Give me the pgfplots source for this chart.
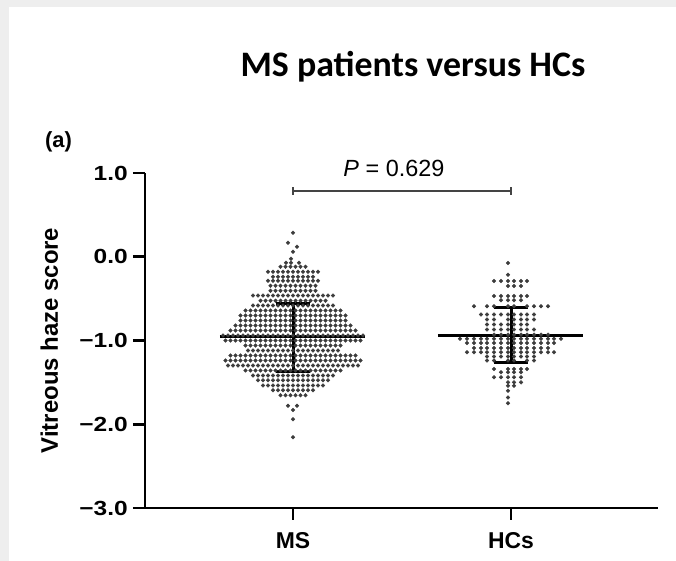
\documentclass[border=0pt]{standalone}
\usepackage{fontspec}
\setmainfont{Liberation Sans}
\newfontfamily\titlefont{Carlito}
\usepackage{graphicx}
\usepackage{pgfplots}
\pgfplotsset{compat=1.18}
\definecolor{bord}{HTML}{EEEEEE}
\definecolor{dotc}{HTML}{3C3C3C}
\definecolor{brk}{HTML}{444444}
\newcommand{\yt}[1]{\scalebox{1.2}[1]{#1}}
\begin{document}
\begin{tikzpicture}
\fill[bord] (0bp,0bp) rectangle (676bp,561bp);
\fill[white] (9bp,0bp) rectangle (676bp,554bp);
\node[anchor=base, inner sep=0pt, font=\titlefont\bfseries\fontsize{36}{38}\selectfont] at (413bp,484bp) {MS patients versus HCs};
\node[anchor=base west, inner sep=0pt, font=\bfseries\fontsize{22}{24}\selectfont] at (45bp,413bp) {(a)};
\begin{axis}[
  at={(145bp,53bp)}, anchor=south west,
  scale only axis, width=513bp, height=335bp,
  xmin=-0.6789, xmax=1.6743, ymin=-3, ymax=1,
  axis x line=bottom, axis y line=left,
  axis line style={-, line width=2.6bp, black},
  xtick={0,1}, xticklabels={MS,HCs},
  ytick={-3,-2,-1,0,1},
  yticklabels={\yt{−3.0},\yt{−2.0},\yt{−1.0},\yt{0.0},\yt{1.0}},
  tick align=outside, major tick length=12bp,
  tick style={black, line width=2.6bp},
  xticklabel style={font=\bfseries\fontsize{23}{23}\selectfont, anchor=base, inner sep=0pt, yshift=-28bp},
  yticklabel style={font=\bfseries\fontsize{20.5}{20.5}\selectfont, anchor=east, inner sep=0pt, xshift=-5bp},
  ylabel={Vitreous haze score},
  ylabel style={font=\bfseries\fontsize{24}{24}\selectfont, at={(axis description cs:-0.1696,0.5)}, anchor=base, inner sep=0pt, rotate=0},
  clip=false,
]
% MS group
\addplot[only marks, mark=*, mark size=1.85bp, color=dotc, x filter/.expression={x/218}] coordinates {
(0,0.286) (-5,0.167) (4,0.119) (0,0.060) (-2,-0.024)
(-7,-0.071) (-2,-0.071) (6,-0.071)
(-12.5,-0.119) (-7.5,-0.119) (-2.5,-0.119) (2.5,-0.119) (7.5,-0.119) (12.5,-0.119)
(-25,-0.179) (-20,-0.179) (-15,-0.179) (-10,-0.179) (-5,-0.179) (0,-0.179) (5,-0.179) (10,-0.179) (15,-0.179) (20,-0.179) (25,-0.179)
(-20,-0.238) (-15,-0.238) (-10,-0.238) (-5,-0.238) (0,-0.238) (5,-0.238) (10,-0.238) (15,-0.238) (20,-0.238)
(-25,-0.286) (-20,-0.286) (-15,-0.286) (-10,-0.286) (-5,-0.286) (0,-0.286) (5,-0.286) (10,-0.286) (15,-0.286) (20,-0.286) (25,-0.286)
(-22.5,-0.345) (-17.5,-0.345) (-12.5,-0.345) (-7.5,-0.345) (-2.5,-0.345) (2.5,-0.345) (7.5,-0.345) (12.5,-0.345) (17.5,-0.345) (22.5,-0.345)
(-22.5,-0.405) (-17.5,-0.405) (-12.5,-0.405) (-7.5,-0.405) (-2.5,-0.405) (2.5,-0.405) (7.5,-0.405) (12.5,-0.405) (17.5,-0.405) (22.5,-0.405)
(-40,-0.464) (-35,-0.464) (-30,-0.464) (-25,-0.464) (-20,-0.464) (-15,-0.464) (-10,-0.464) (-5,-0.464) (0,-0.464) (5,-0.464) (10,-0.464) (15,-0.464) (20,-0.464) (25,-0.464) (30,-0.464) (35,-0.464) (40,-0.464)
(-32.5,-0.524) (-27.5,-0.524) (-22.5,-0.524) (-17.5,-0.524) (-12.5,-0.524) (-7.5,-0.524) (-2.5,-0.524) (2.5,-0.524) (7.5,-0.524) (12.5,-0.524) (17.5,-0.524) (22.5,-0.524) (27.5,-0.524) (32.5,-0.524)
(-40,-0.583) (-35,-0.583) (-30,-0.583) (-25,-0.583) (-20,-0.583) (-15,-0.583) (-10,-0.583) (-5,-0.583) (0,-0.583) (5,-0.583) (10,-0.583) (15,-0.583) (20,-0.583) (25,-0.583) (30,-0.583) (35,-0.583) (40,-0.583)
(-47.5,-0.643) (-42.5,-0.643) (-37.5,-0.643) (-32.5,-0.643) (-27.5,-0.643) (-22.5,-0.643) (-17.5,-0.643) (-12.5,-0.643) (-7.5,-0.643) (-2.5,-0.643) (2.5,-0.643) (7.5,-0.643) (12.5,-0.643) (17.5,-0.643) (22.5,-0.643) (27.5,-0.643) (32.5,-0.643) (37.5,-0.643) (42.5,-0.643) (47.5,-0.643)
(-52.5,-0.702) (-47.5,-0.702) (-42.5,-0.702) (-37.5,-0.702) (-32.5,-0.702) (-27.5,-0.702) (-22.5,-0.702) (-17.5,-0.702) (-12.5,-0.702) (-7.5,-0.702) (-2.5,-0.702) (2.5,-0.702) (7.5,-0.702) (12.5,-0.702) (17.5,-0.702) (22.5,-0.702) (27.5,-0.702) (32.5,-0.702) (37.5,-0.702) (42.5,-0.702) (47.5,-0.702) (52.5,-0.702)
(-52.5,-0.762) (-47.5,-0.762) (-42.5,-0.762) (-37.5,-0.762) (-32.5,-0.762) (-27.5,-0.762) (-22.5,-0.762) (-17.5,-0.762) (-12.5,-0.762) (-7.5,-0.762) (-2.5,-0.762) (2.5,-0.762) (7.5,-0.762) (12.5,-0.762) (17.5,-0.762) (22.5,-0.762) (27.5,-0.762) (32.5,-0.762) (37.5,-0.762) (42.5,-0.762) (47.5,-0.762) (52.5,-0.762)
(-57.5,-0.821) (-52.5,-0.821) (-47.5,-0.821) (-42.5,-0.821) (-37.5,-0.821) (-32.5,-0.821) (-27.5,-0.821) (-22.5,-0.821) (-17.5,-0.821) (-12.5,-0.821) (-7.5,-0.821) (-2.5,-0.821) (2.5,-0.821) (7.5,-0.821) (12.5,-0.821) (17.5,-0.821) (22.5,-0.821) (27.5,-0.821) (32.5,-0.821) (37.5,-0.821) (42.5,-0.821) (47.5,-0.821) (52.5,-0.821) (57.5,-0.821)
(-62.5,-0.881) (-57.5,-0.881) (-52.5,-0.881) (-47.5,-0.881) (-42.5,-0.881) (-37.5,-0.881) (-32.5,-0.881) (-27.5,-0.881) (-22.5,-0.881) (-17.5,-0.881) (-12.5,-0.881) (-7.5,-0.881) (-2.5,-0.881) (2.5,-0.881) (7.5,-0.881) (12.5,-0.881) (17.5,-0.881) (22.5,-0.881) (27.5,-0.881) (32.5,-0.881) (37.5,-0.881) (42.5,-0.881) (47.5,-0.881) (52.5,-0.881) (57.5,-0.881) (62.5,-0.881)
(-70,-0.940) (-65,-0.940) (-60,-0.940) (-55,-0.940) (-50,-0.940) (-45,-0.940) (-40,-0.940) (-35,-0.940) (-30,-0.940) (-25,-0.940) (-20,-0.940) (-15,-0.940) (-10,-0.940) (-5,-0.940) (0,-0.940) (5,-0.940) (10,-0.940) (15,-0.940) (20,-0.940) (25,-0.940) (30,-0.940) (35,-0.940) (40,-0.940) (45,-0.940) (50,-0.940) (55,-0.940) (60,-0.940) (65,-0.940) (70,-0.940)
(-67.5,-1.000) (-62.5,-1.000) (-57.5,-1.000) (-52.5,-1.000) (-47.5,-1.000) (-42.5,-1.000) (-37.5,-1.000) (-32.5,-1.000) (-27.5,-1.000) (-22.5,-1.000) (-17.5,-1.000) (-12.5,-1.000) (-7.5,-1.000) (-2.5,-1.000) (2.5,-1.000) (7.5,-1.000) (12.5,-1.000) (17.5,-1.000) (22.5,-1.000) (27.5,-1.000) (32.5,-1.000) (37.5,-1.000) (42.5,-1.000) (47.5,-1.000) (52.5,-1.000) (57.5,-1.000) (62.5,-1.000) (67.5,-1.000)
(-47.5,-1.060) (-42.5,-1.060) (-37.5,-1.060) (-32.5,-1.060) (-27.5,-1.060) (-22.5,-1.060) (-17.5,-1.060) (-12.5,-1.060) (-7.5,-1.060) (-2.5,-1.060) (2.5,-1.060) (7.5,-1.060) (12.5,-1.060) (17.5,-1.060) (22.5,-1.060) (27.5,-1.060) (32.5,-1.060) (37.5,-1.060) (42.5,-1.060) (47.5,-1.060)
(-45,-1.119) (-40,-1.119) (-35,-1.119) (-30,-1.119) (-25,-1.119) (-20,-1.119) (-15,-1.119) (-10,-1.119) (-5,-1.119) (0,-1.119) (5,-1.119) (10,-1.119) (15,-1.119) (20,-1.119) (25,-1.119) (30,-1.119) (35,-1.119) (40,-1.119) (45,-1.119)
(-62.5,-1.179) (-57.5,-1.179) (-52.5,-1.179) (-47.5,-1.179) (-42.5,-1.179) (-37.5,-1.179) (-32.5,-1.179) (-27.5,-1.179) (-22.5,-1.179) (-17.5,-1.179) (-12.5,-1.179) (-7.5,-1.179) (-2.5,-1.179) (2.5,-1.179) (7.5,-1.179) (12.5,-1.179) (17.5,-1.179) (22.5,-1.179) (27.5,-1.179) (32.5,-1.179) (37.5,-1.179) (42.5,-1.179) (47.5,-1.179) (52.5,-1.179) (57.5,-1.179) (62.5,-1.179)
(-67.5,-1.238) (-62.5,-1.238) (-57.5,-1.238) (-52.5,-1.238) (-47.5,-1.238) (-42.5,-1.238) (-37.5,-1.238) (-32.5,-1.238) (-27.5,-1.238) (-22.5,-1.238) (-17.5,-1.238) (-12.5,-1.238) (-7.5,-1.238) (-2.5,-1.238) (2.5,-1.238) (7.5,-1.238) (12.5,-1.238) (17.5,-1.238) (22.5,-1.238) (27.5,-1.238) (32.5,-1.238) (37.5,-1.238) (42.5,-1.238) (47.5,-1.238) (52.5,-1.238) (57.5,-1.238) (62.5,-1.238) (67.5,-1.238)
(-65,-1.298) (-60,-1.298) (-55,-1.298) (-50,-1.298) (-45,-1.298) (-40,-1.298) (-35,-1.298) (-30,-1.298) (-25,-1.298) (-20,-1.298) (-15,-1.298) (-10,-1.298) (-5,-1.298) (0,-1.298) (5,-1.298) (10,-1.298) (15,-1.298) (20,-1.298) (25,-1.298) (30,-1.298) (35,-1.298) (40,-1.298) (45,-1.298) (50,-1.298) (55,-1.298) (60,-1.298) (65,-1.298)
(-47.5,-1.357) (-42.5,-1.357) (-37.5,-1.357) (-32.5,-1.357) (-27.5,-1.357) (-22.5,-1.357) (-17.5,-1.357) (-12.5,-1.357) (-7.5,-1.357) (-2.5,-1.357) (2.5,-1.357) (7.5,-1.357) (12.5,-1.357) (17.5,-1.357) (22.5,-1.357) (27.5,-1.357) (32.5,-1.357) (37.5,-1.357) (42.5,-1.357) (47.5,-1.357)
(-40,-1.417) (-35,-1.417) (-30,-1.417) (-25,-1.417) (-20,-1.417) (-15,-1.417) (-10,-1.417) (-5,-1.417) (0,-1.417) (5,-1.417) (10,-1.417) (15,-1.417) (20,-1.417) (25,-1.417) (30,-1.417) (35,-1.417) (40,-1.417)
(-35,-1.476) (-30,-1.476) (-25,-1.476) (-20,-1.476) (-15,-1.476) (-10,-1.476) (-5,-1.476) (0,-1.476) (5,-1.476) (10,-1.476) (15,-1.476) (20,-1.476) (25,-1.476) (30,-1.476) (35,-1.476)
(-30,-1.536) (-25,-1.536) (-20,-1.536) (-15,-1.536) (-10,-1.536) (-5,-1.536) (0,-1.536) (5,-1.536) (10,-1.536) (15,-1.536) (20,-1.536) (25,-1.536) (30,-1.536)
(-20,-1.595) (-15,-1.595) (-10,-1.595) (-5,-1.595) (0,-1.595) (5,-1.595) (10,-1.595) (15,-1.595) (20,-1.595)
(-12.5,-1.655) (-7.5,-1.655) (-2.5,-1.655) (2.5,-1.655) (7.5,-1.655) (12.5,-1.655)
(-5,-1.780) (4,-1.780) (0,-1.830) (0,-1.940) (0,-2.155)
};
% HCs group
\addplot[only marks, mark=*, mark size=1.85bp, color=dotc, x filter/.expression={1+x/218}] coordinates {
(-3,-0.075) (-3,-0.214)
(-17,-0.29) (-10,-0.29) (-3,-0.29) (3,-0.29) (10,-0.29) (16,-0.29)
(-3,-0.35) (3,-0.35) (10,-0.35)
(-17,-0.47) (-10,-0.47) (-3,-0.47) (3,-0.47) (10,-0.47) (16,-0.47)
(-10,-0.52) (-3,-0.52) (3,-0.52) (10,-0.52)
(-37,-0.59) (-24,-0.59) (-17,-0.59) (-3,-0.59) (3,-0.59) (16,-0.59) (23,-0.59) (30,-0.59) (37,-0.59)
(-30,-0.69) (-24,-0.69) (-17,-0.69) (-10,-0.69) (-3,-0.69) (3,-0.69) (10,-0.69) (16,-0.69) (23,-0.69)
(-24,-0.75) (-17,-0.75) (-3,-0.75) (3,-0.75) (10,-0.75) (16,-0.75) (23,-0.75)
(-24,-0.81) (-17,-0.81) (-10,-0.81) (-3,-0.81) (3,-0.81) (10,-0.81) (16,-0.81)
(-24,-0.87) (-17,-0.87) (-10,-0.87) (-3,-0.87) (3,-0.87) (10,-0.87) (16,-0.87) (23,-0.87)
(-17,-0.93) (-10,-0.93) (-3,-0.93) (3,-0.93) (10,-0.93) (16,-0.93) (23,-0.93) (30,-0.93) (37,-0.93)
(-51,-0.98) (-44,-0.98) (-37,-0.98) (-30,-0.98) (-24,-0.98) (-17,-0.98) (-10,-0.98) (-3,-0.98) (3,-0.98) (10,-0.98) (16,-0.98) (23,-0.98) (30,-0.98) (37,-0.98) (43,-0.98) (50,-0.98)
(-44,-1.03) (-37,-1.03) (-30,-1.03) (-24,-1.03) (-17,-1.03) (-10,-1.03) (-3,-1.03) (3,-1.03) (10,-1.03) (16,-1.03) (23,-1.03) (30,-1.03) (37,-1.03) (43,-1.03)
(-37,-1.09) (-30,-1.09) (-24,-1.09) (-17,-1.09) (-10,-1.09) (-3,-1.09) (3,-1.09) (10,-1.09) (16,-1.09) (23,-1.09) (30,-1.09) (37,-1.09)
(-44,-1.14) (-37,-1.14) (-30,-1.14) (-24,-1.14) (-17,-1.14) (-10,-1.14) (-3,-1.14) (3,-1.14) (10,-1.14) (16,-1.14) (23,-1.14) (30,-1.14) (37,-1.14) (43,-1.14)
(-24,-1.19) (-17,-1.19) (-10,-1.19) (-3,-1.19) (3,-1.19) (10,-1.19) (16,-1.19) (23,-1.19)
(-24,-1.24) (-17,-1.24) (-3,-1.24) (3,-1.24) (16,-1.24) (23,-1.24)
(-17,-1.34) (-3,-1.34) (3,-1.34) (10,-1.34) (16,-1.34)
(-10,-1.38) (-3,-1.38) (3,-1.38) (10,-1.38)
(-17,-1.44) (-10,-1.44) (-3,-1.44) (3,-1.44) (10,-1.44)
(-3,-1.50) (3,-1.50) (10,-1.50)
(-3,-1.54) (3,-1.54)
(-3,-1.60) (-3,-1.68) (-3,-1.75)
};
% mean and SD
\addplot[black, line width=3bp] coordinates {(-0.335,-0.952) (0.330,-0.952)};
\addplot[black, line width=3bp] coordinates {(0,-0.56) (0,-1.37)};
\addplot[black, line width=3bp] coordinates {(-0.08,-0.56) (0.08,-0.56)};
\addplot[black, line width=3bp] coordinates {(-0.08,-1.37) (0.08,-1.37)};
\addplot[black, line width=3bp] coordinates {(0.665,-0.940) (1.330,-0.940)};
\addplot[black, line width=3bp] coordinates {(1,-0.61) (1,-1.26)};
\addplot[black, line width=3bp] coordinates {(0.92,-0.61) (1.08,-0.61)};
\addplot[black, line width=3bp] coordinates {(0.92,-1.26) (1.08,-1.26)};
% significance bracket
\addplot[brk, line width=1.3bp] coordinates {(0,0.786) (1,0.786)};
\addplot[brk, line width=1.3bp] coordinates {(0,0.738) (0,0.834)};
\addplot[brk, line width=1.3bp] coordinates {(1,0.738) (1,0.834)};
\node[anchor=base, inner sep=0pt, font=\fontsize{23.5}{24}\selectfont] at (axis cs:0.463,0.956) {\textit{P} = 0.629};
\end{axis}
\end{tikzpicture}
\end{document}
